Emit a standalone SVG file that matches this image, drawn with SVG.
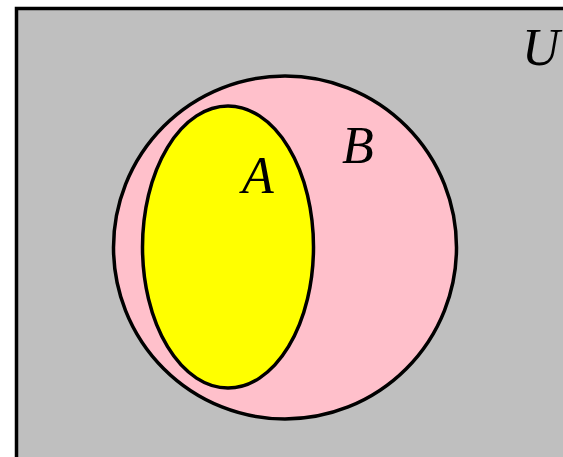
<svg xmlns="http://www.w3.org/2000/svg" width="563" height="457" viewBox="0 0 563 457">
<style>
.lbl{font-family:"Liberation Serif","Times New Roman",serif;font-style:italic;font-size:52px;fill:#000}
.sh{stroke:#000;stroke-width:3.5}
</style>
<rect width="563" height="457" fill="#fff"/>
<g id="U">
<rect x="16.5" y="8.5" width="600" height="500" fill="#bfbfbf" stroke="#000" stroke-width="3.5"/>
<text class="lbl" x="522" y="65">U</text>
</g>
<g id="B">
<circle class="sh" cx="285" cy="247.5" r="171.5" fill="#ffc0cb"/>
<text class="lbl" x="342" y="163">B</text>
</g>
<g id="A">
<ellipse class="sh" cx="228" cy="247" rx="85.5" ry="141" fill="#ffff00"/>
<text class="lbl" x="242" y="193">A</text>
</g>
<g id="connectors"/>
</svg>
